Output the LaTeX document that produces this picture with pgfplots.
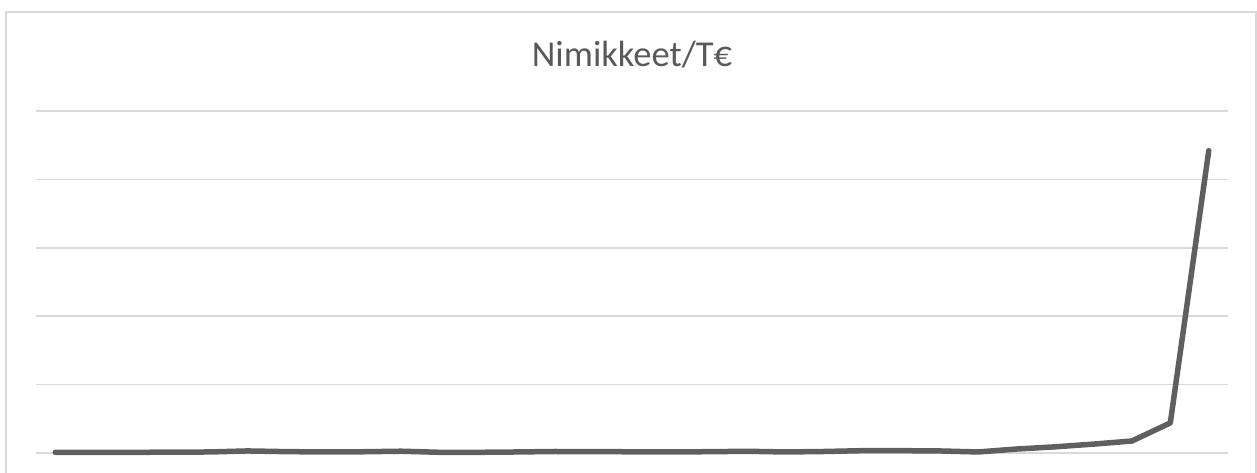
\documentclass[border=0pt]{standalone}
\usepackage{fontspec}
\setmainfont{Carlito}
\usepackage{pgfplots}
\pgfplotsset{compat=1.18}
\definecolor{gridgray}{HTML}{D9D9D9}
\definecolor{linegray}{HTML}{5F5F5F}
\definecolor{titlegray}{HTML}{595959}

\begin{document}
\begin{tikzpicture}[x=1pt,y=1pt]
  % page extent and chart frame
  \path[use as bounding box] (-36,-20) rectangle (1221,453);
  \begin{scope}
    \clip (-36,-20) rectangle (1221,453);
    \draw[gridgray, line width=1.5pt] (-30,-60) rectangle (1220,441);
  \end{scope}
  \node[anchor=base, text=titlegray, font=\fontsize{36.5}{40}\selectfont] at (596,386) {Nimikkeet/T€};
  \begin{axis}[
    at={(0,0)}, anchor=south west,
    scale only axis,
    width=1192pt, height=342pt,
    xmin=-0.5, xmax=30.5,
    ymin=0, ymax=50,
    ytick={0,10,20,30,40,50},
    xtick=\empty,
    yticklabel=\empty,
    ymajorgrids,
    grid style={gridgray, line width=1.5pt},
    axis line style={draw=none},
    tick style={draw=none},
    clip=false,
  ]
    \addplot[linegray, line width=5.5pt, line cap=round, line join=round, mark=none] coordinates {
      (0,0.10) (1,0.10) (2,0.10) (3,0.12) (4,0.15) (5,0.30)
      (6,0.20) (7,0.15) (8,0.18) (9,0.26) (10,0.10) (11,0.10)
      (12,0.15) (13,0.22) (14,0.19) (15,0.18) (16,0.15) (17,0.19)
      (18,0.25) (19,0.15) (20,0.22) (21,0.34) (22,0.34) (23,0.30)
      (24,0.15) (25,0.58) (26,0.90) (27,1.30) (28,1.75) (29,4.40)
      (30,44.2)
    };
  \end{axis}
\end{tikzpicture}
\end{document}
